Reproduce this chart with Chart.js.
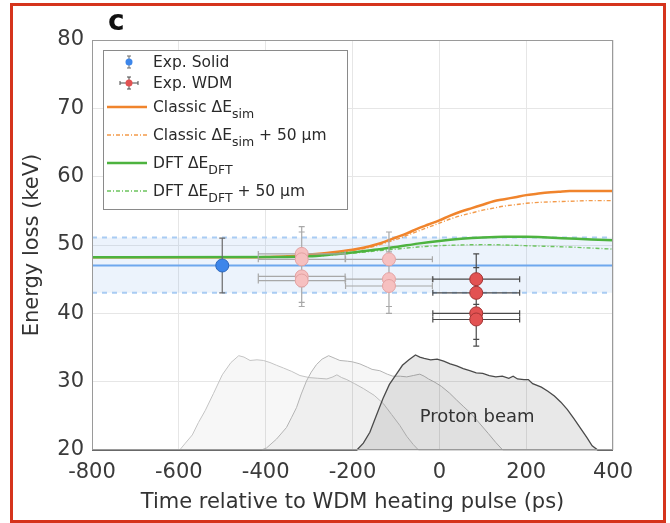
<!DOCTYPE html>
<html>
<head>
<meta charset="utf-8">
<script src="https://cdn.jsdelivr.net/npm/chart.js@4/dist/chart.umd.min.js"></script>
<style>
  html, body { margin: 0; padding: 0; background: #fff; }
  #wrap { position: relative; width: 670px; height: 523px; }
  #frame {
    position: absolute; left: 10px; top: 3px; width: 656px; height: 520px;
    box-sizing: border-box; border: 3px solid #d5341c; pointer-events: none;
  }
</style>
</head>
<body>
<div id="wrap">
  <canvas id="chart" width="670" height="523"></canvas>
  <div id="frame"></div>
</div>
<script>
// axis ticks
const xTicks = [-800, -600, -400, -200, 0, 200, 400]
const yTicks = [20, 30, 40, 50, 60, 70, 80]

// cold (solid) target measurement and its band
const solidTime = [-500]
const solidLoss = [47]
const solidErr = [4]
const solidMean = 47
const solidLow = 43
const solidHigh = 51.1
const bandTime = [-800, 400]

// WDM shots, earlier delays (faded) and the main delay
const wdmEarlyTime = [-317, -317, -317, -317, -116, -116, -116]
const wdmEarlyLoss = [48.7, 47.9, 45.4, 44.8, 47.9, 45.0, 44.0]
const wdmEarlyErr = [4, 4, 3.8, 3.8, 4, 4, 4]
const wdmTime = [85, 85, 85, 85]
const wdmLoss = [45.0, 43.0, 40.0, 39.1]
const wdmErr = [3.7, 3.7, 3.8, 3.9]
const timeErr = 100

// simulated energy loss
const classicTime = [-800, -450, -400, -350, -300, -250, -200, -175, -150, -125, -100, -75, -50, -25, 0, 25, 50, 75, 100, 125, 150, 175, 200, 225, 250, 275, 300, 350, 400]
const classicLoss = [48.2, 48.2, 48.25, 48.35, 48.6, 48.9, 49.3, 49.6, 50.0, 50.5, 51.1, 51.7, 52.4, 53.0, 53.6, 54.3, 54.9, 55.4, 55.9, 56.4, 56.7, 57.0, 57.3, 57.5, 57.7, 57.8, 57.9, 57.9, 57.9]
const classic50Time = [-800, -400, -300, -250, -200, -150, -125, -100, -75, -50, -25, 0, 25, 50, 75, 100, 125, 150, 175, 200, 250, 300, 350, 400]
const classic50Loss = [48.2, 48.2, 48.5, 48.8, 49.2, 49.8, 50.3, 50.8, 51.4, 52.0, 52.6, 53.2, 53.8, 54.3, 54.7, 55.1, 55.4, 55.7, 55.9, 56.1, 56.3, 56.4, 56.5, 56.5]
const dftTime = [-800, -350, -300, -250, -200, -150, -100, -50, 0, 50, 100, 150, 200, 250, 300, 350, 400]
const dftLoss = [48.2, 48.25, 48.35, 48.6, 48.9, 49.3, 49.7, 50.2, 50.6, 50.9, 51.1, 51.2, 51.2, 51.1, 50.95, 50.8, 50.7]
const dft50Time = [-800, -300, -250, -200, -150, -100, -50, 0, 50, 100, 150, 200, 250, 300, 350, 400]
const dft50Loss = [48.2, 48.35, 48.55, 48.8, 49.1, 49.4, 49.7, 49.9, 50.0, 50.05, 50.0, 49.9, 49.8, 49.7, 49.55, 49.4]

// proton beam temporal profiles (arbitrary units drawn on the keV axis)
const beamATime = [-800, -598, -585, -569, -555, -539, -520, -500, -480, -462, -450, -436, -420, -405, -390, -375, -359, -340, -321, -300, -280, -259, -245, -236, -225, -213, -195, -175, -150, -129, -110, -91, -75, -60, -48, 400]
const beamALevel = [20, 20, 21, 22.2, 24, 25.8, 28.3, 31.0, 32.8, 33.8, 33.6, 33.1, 33.2, 33.1, 32.8, 32.4, 32.0, 31.5, 30.9, 30.6, 30.5, 30.4, 30.7, 31.0, 30.6, 30.3, 29.7, 29.0, 28.0, 26.8, 25.2, 23.6, 22.0, 20.8, 20, 20]
const beamBTime = [-800, -410, -398, -375, -352, -340, -329, -318, -306, -295, -283, -270, -255, -240, -229, -212, -200, -183, -165, -155, -137, -120, -107, -90, -75, -60, -45, -35, -25, -10, 5, 24, 40, 55, 72, 90, 113, 130, 146, 400]
const beamBLevel = [20, 20, 20.3, 21.6, 23.3, 24.8, 26.2, 28.2, 30.1, 31.4, 32.5, 33.3, 33.8, 33.4, 33.1, 33.0, 32.9, 32.6, 32.1, 31.8, 31.6, 31.1, 30.8, 30.8, 30.7, 30.9, 31.1, 30.8, 30.4, 29.9, 29.3, 28.3, 27.3, 26.4, 25.4, 24.1, 22.4, 21.1, 20, 20]
const beamCTime = [-800, -190, -175, -160, -146, -130, -115, -100, -85, -70, -55, -45, -35, -20, -5, 10, 25, 40, 55, 70, 85, 100, 115, 130, 145, 160, 170, 180, 195, 205, 215, 235, 250, 265, 280, 295, 310, 325, 340, 352, 365, 400]
const beamCLevel = [20, 20, 21, 22.6, 24.9, 27.5, 29.6, 31.0, 32.4, 33.2, 33.9, 33.6, 33.4, 33.2, 33.3, 33.0, 32.6, 32.3, 31.9, 31.6, 31.3, 31.2, 30.9, 30.7, 30.8, 30.5, 30.8, 30.4, 30.3, 30.3, 29.7, 29.2, 28.6, 27.9, 27.0, 25.9, 24.6, 23.2, 21.8, 20.6, 20, 20]
const beamLabel = { x: 87, y: 24.8, text: 'Proton beam' }

const pts = (xs, ys) => xs.map((x, i) => ({ x: x, y: ys[i] }))

const FONT = '"DejaVu Sans", sans-serif'
Chart.defaults.font.family = FONT
Chart.defaults.color = '#3a3a3a'

const lineDefaults = { showLine: true, pointRadius: 0, fill: false }

const datasets = [
    // proton beam profiles, baseline left unclipped so it shows on the axis
    { ...lineDefaults, data: pts(beamATime, beamALevel), borderColor: '#c4c4c4', borderWidth: 1, backgroundColor: 'rgba(0,0,0,0.03)', fill: 'start', clip: 3, order: 20 },
    { ...lineDefaults, data: pts(beamBTime, beamBLevel), borderColor: '#b4b4b4', borderWidth: 1, backgroundColor: 'rgba(0,0,0,0.035)', fill: 'start', clip: 3, order: 19 },
    { ...lineDefaults, data: pts(beamCTime, beamCLevel), borderColor: '#4a4a4a', borderWidth: 1.3, backgroundColor: 'rgba(0,0,0,0.09)', fill: 'start', clip: 3, order: 18 },
    // solid band
    { ...lineDefaults, data: pts(bandTime, [solidHigh, solidHigh]), borderColor: '#a9ccf3', borderWidth: 2, borderDash: [5, 5], backgroundColor: 'rgba(120,170,235,0.14)', fill: '+1', order: 16 },
    { ...lineDefaults, data: pts(bandTime, [solidLow, solidLow]), borderColor: '#a9ccf3', borderWidth: 2, borderDash: [5, 5], order: 15 },
    { ...lineDefaults, data: pts(bandTime, [solidMean, solidMean]), borderColor: '#6ea7ee', borderWidth: 2, order: 14 },
    // simulations
    { ...lineDefaults, data: pts(classic50Time, classic50Loss), borderColor: '#f39a4a', borderWidth: 1.4, borderDash: [4, 2, 1, 2], cubicInterpolationMode: 'monotone', order: 12,
      legend: { kind: 'line', parts: [['Classic \u0394E'], ['sim', 1], [' + 50 \u03bcm']] } },
    { ...lineDefaults, data: pts(classicTime, classicLoss), borderColor: '#f0842c', borderWidth: 2.5, cubicInterpolationMode: 'monotone', order: 11,
      legend: { kind: 'line', parts: [['Classic \u0394E'], ['sim', 1]] } },
    { ...lineDefaults, data: pts(dft50Time, dft50Loss), borderColor: '#6cc45e', borderWidth: 1.4, borderDash: [4, 2, 1, 2], cubicInterpolationMode: 'monotone', order: 10,
      legend: { kind: 'line', parts: [['DFT \u0394E'], ['DFT', 1], [' + 50 \u03bcm']] } },
    { ...lineDefaults, data: pts(dftTime, dftLoss), borderColor: '#4db33f', borderWidth: 2.5, cubicInterpolationMode: 'monotone', order: 9,
      legend: { kind: 'line', parts: [['DFT \u0394E'], ['DFT', 1]] } },
    // measurements
    { data: pts(solidTime, solidLoss), yErr: solidErr, xErr: 0, errColor: '#6a6a6a', pointRadius: 6.5, pointBorderWidth: 1,
      backgroundColor: '#3d86ea', borderColor: '#2b66bb', order: 3,
      legend: { kind: 'marker', parts: [['Exp. Solid']] } },
    { data: pts(wdmEarlyTime, wdmEarlyLoss), yErr: wdmEarlyErr, xErr: timeErr, errColor: '#a8a8a8', pointRadius: 6.5, pointBorderWidth: 1,
      backgroundColor: '#f6c0c0', borderColor: '#e3a2a2', order: 2 },
    { data: pts(wdmTime, wdmLoss), yErr: wdmErr, xErr: timeErr, errColor: '#4a4a4a', pointRadius: 6.5, pointBorderWidth: 1,
      backgroundColor: '#e25252', borderColor: '#a33434', order: 1,
      legend: { kind: 'marker', parts: [['Exp. WDM']] } }
]

// error bars under each measured point
const errorBars = {
    id: 'errorBars',
    beforeDatasetDraw(chart, args) {
        const ds = chart.data.datasets[args.index]
        if (!ds.yErr) return
        const { ctx } = chart
        const x = chart.scales.x, y = chart.scales.y
        ctx.save()
        ctx.strokeStyle = ds.errColor
        ctx.lineWidth = 1.2
        ctx.beginPath()
        ds.data.forEach((p, i) => {
            const px = x.getPixelForValue(p.x), py = y.getPixelForValue(p.y)
            const top = y.getPixelForValue(p.y + ds.yErr[i])
            const bot = y.getPixelForValue(p.y - ds.yErr[i])
            ctx.moveTo(px, top); ctx.lineTo(px, bot)
            ctx.moveTo(px - 3, top); ctx.lineTo(px + 3, top)
            ctx.moveTo(px - 3, bot); ctx.lineTo(px + 3, bot)
            if (ds.xErr) {
                const l = x.getPixelForValue(p.x - ds.xErr), r = x.getPixelForValue(p.x + ds.xErr)
                ctx.moveTo(l, py); ctx.lineTo(r, py)
                ctx.moveTo(l, py - 3); ctx.lineTo(l, py + 3)
                ctx.moveTo(r, py - 3); ctx.lineTo(r, py + 3)
            }
        })
        ctx.stroke()
        ctx.restore()
    }
}

function drawParts(ctx, x, y, parts) {
    let cx = x
    parts.forEach(([t, sub]) => {
        ctx.font = sub ? '12.5px ' + FONT : '15.5px ' + FONT
        ctx.fillText(t, cx, sub ? y + 7 : y)
        cx += ctx.measureText(t).width
    })
}

// frame, legend, panel letter and beam label
const decorations = {
    id: 'decorations',
    afterDatasetsDraw(chart) {
        const { ctx, chartArea: a } = chart
        const x = chart.scales.x, y = chart.scales.y
        ctx.save()
        ctx.fillStyle = '#333'
        ctx.font = '18px ' + FONT
        ctx.textAlign = 'center'
        ctx.textBaseline = 'middle'
        ctx.fillText(beamLabel.text, x.getPixelForValue(beamLabel.x), y.getPixelForValue(beamLabel.y))
        ctx.strokeStyle = '#9a9a9a'
        ctx.lineWidth = 1
        ctx.strokeRect(a.left + 0.5, a.top + 0.5, a.right - a.left - 1, a.bottom - a.top - 1)
        ctx.restore()
    },
    afterDraw(chart) {
        const { ctx } = chart
        ctx.save()
        ctx.fillStyle = '#fff'
        ctx.strokeStyle = '#8a8a8a'
        ctx.lineWidth = 1
        ctx.fillRect(103, 50, 244, 159)
        ctx.strokeRect(103.5, 50.5, 244, 159)

        const rows = [62, 83, 107, 135, 163, 191]
        const entries = chart.data.datasets.filter(d => d.legend)
        const order = ['Exp. Solid', 'Exp. WDM', 'Classic \u0394E', 'Classic \u0394E+', 'DFT \u0394E', 'DFT \u0394E+']
        const keyOf = d => d.legend.parts[0][0] + (d.legend.parts.length > 2 ? '+' : '')
        entries.sort((a, b) => order.indexOf(keyOf(a)) - order.indexOf(keyOf(b)))
        ctx.textBaseline = 'middle'
        entries.forEach((d, i) => {
            const ry = rows[i]
            if (d.legend.kind === 'line') {
                ctx.strokeStyle = d.borderColor
                ctx.lineWidth = d.borderWidth
                ctx.setLineDash(d.borderDash || [])
                ctx.beginPath()
                ctx.moveTo(107, ry); ctx.lineTo(147, ry)
                ctx.stroke()
                ctx.setLineDash([])
            } else {
                ctx.strokeStyle = d.errColor
                ctx.lineWidth = 1
                ctx.beginPath()
                ctx.moveTo(129, ry - 6); ctx.lineTo(129, ry + 6)
                ctx.moveTo(127, ry - 6); ctx.lineTo(131, ry - 6)
                ctx.moveTo(127, ry + 6); ctx.lineTo(131, ry + 6)
                if (d.xErr) {
                    ctx.moveTo(120, ry); ctx.lineTo(138, ry)
                    ctx.moveTo(120, ry - 2); ctx.lineTo(120, ry + 2)
                    ctx.moveTo(138, ry - 2); ctx.lineTo(138, ry + 2)
                }
                ctx.stroke()
                ctx.fillStyle = d.backgroundColor
                ctx.beginPath()
                ctx.arc(129, ry, 3.5, 0, Math.PI * 2)
                ctx.fill()
            }
            ctx.fillStyle = '#2a2a2a'
            drawParts(ctx, 153, ry + 1, d.legend.parts)
        })

        ctx.fillStyle = '#111'
        ctx.font = 'bold 28px ' + FONT
        ctx.textBaseline = 'alphabetic'
        ctx.fillText('c', 108, 30)
        ctx.restore()
    }
}

const ctx = document.getElementById('chart').getContext('2d')
const chart = new Chart(ctx, {
    type: 'scatter',
    data: { datasets: datasets },
    options: {
        responsive: false,
        animation: false,
        devicePixelRatio: 1,
        layout: { padding: { left: 0, top: 40, right: 57, bottom: 0 } },
        plugins: { legend: { display: false }, tooltip: { enabled: false } },
        scales: {
            x: {
                type: 'linear', min: -800, max: 400,
                afterBuildTicks: s => { s.ticks = xTicks.map(v => ({ value: v })) },
                afterFit: s => { s.height = 73 },
                ticks: { font: { size: 21 }, color: '#3a3a3a', padding: 10 },
                grid: { color: '#e6e6e6', drawTicks: false },
                border: { display: false },
                title: { display: true, text: 'Time relative to WDM heating pulse (ps)', font: { size: 21 }, color: '#333', padding: { bottom: 8 } }
            },
            y: {
                type: 'linear', min: 20, max: 80,
                afterBuildTicks: s => { s.ticks = yTicks.map(v => ({ value: v })) },
                afterFit: s => { s.width = 92 },
                ticks: { font: { size: 21 }, color: '#3a3a3a', padding: 8 },
                grid: { color: '#e6e6e6', drawTicks: false },
                border: { display: false },
                title: { display: true, text: 'Energy loss (keV)', font: { size: 21 }, color: '#333', padding: { top: 20 } }
            }
        }
    },
    plugins: [errorBars, decorations]
})
</script>
</body>
</html>
